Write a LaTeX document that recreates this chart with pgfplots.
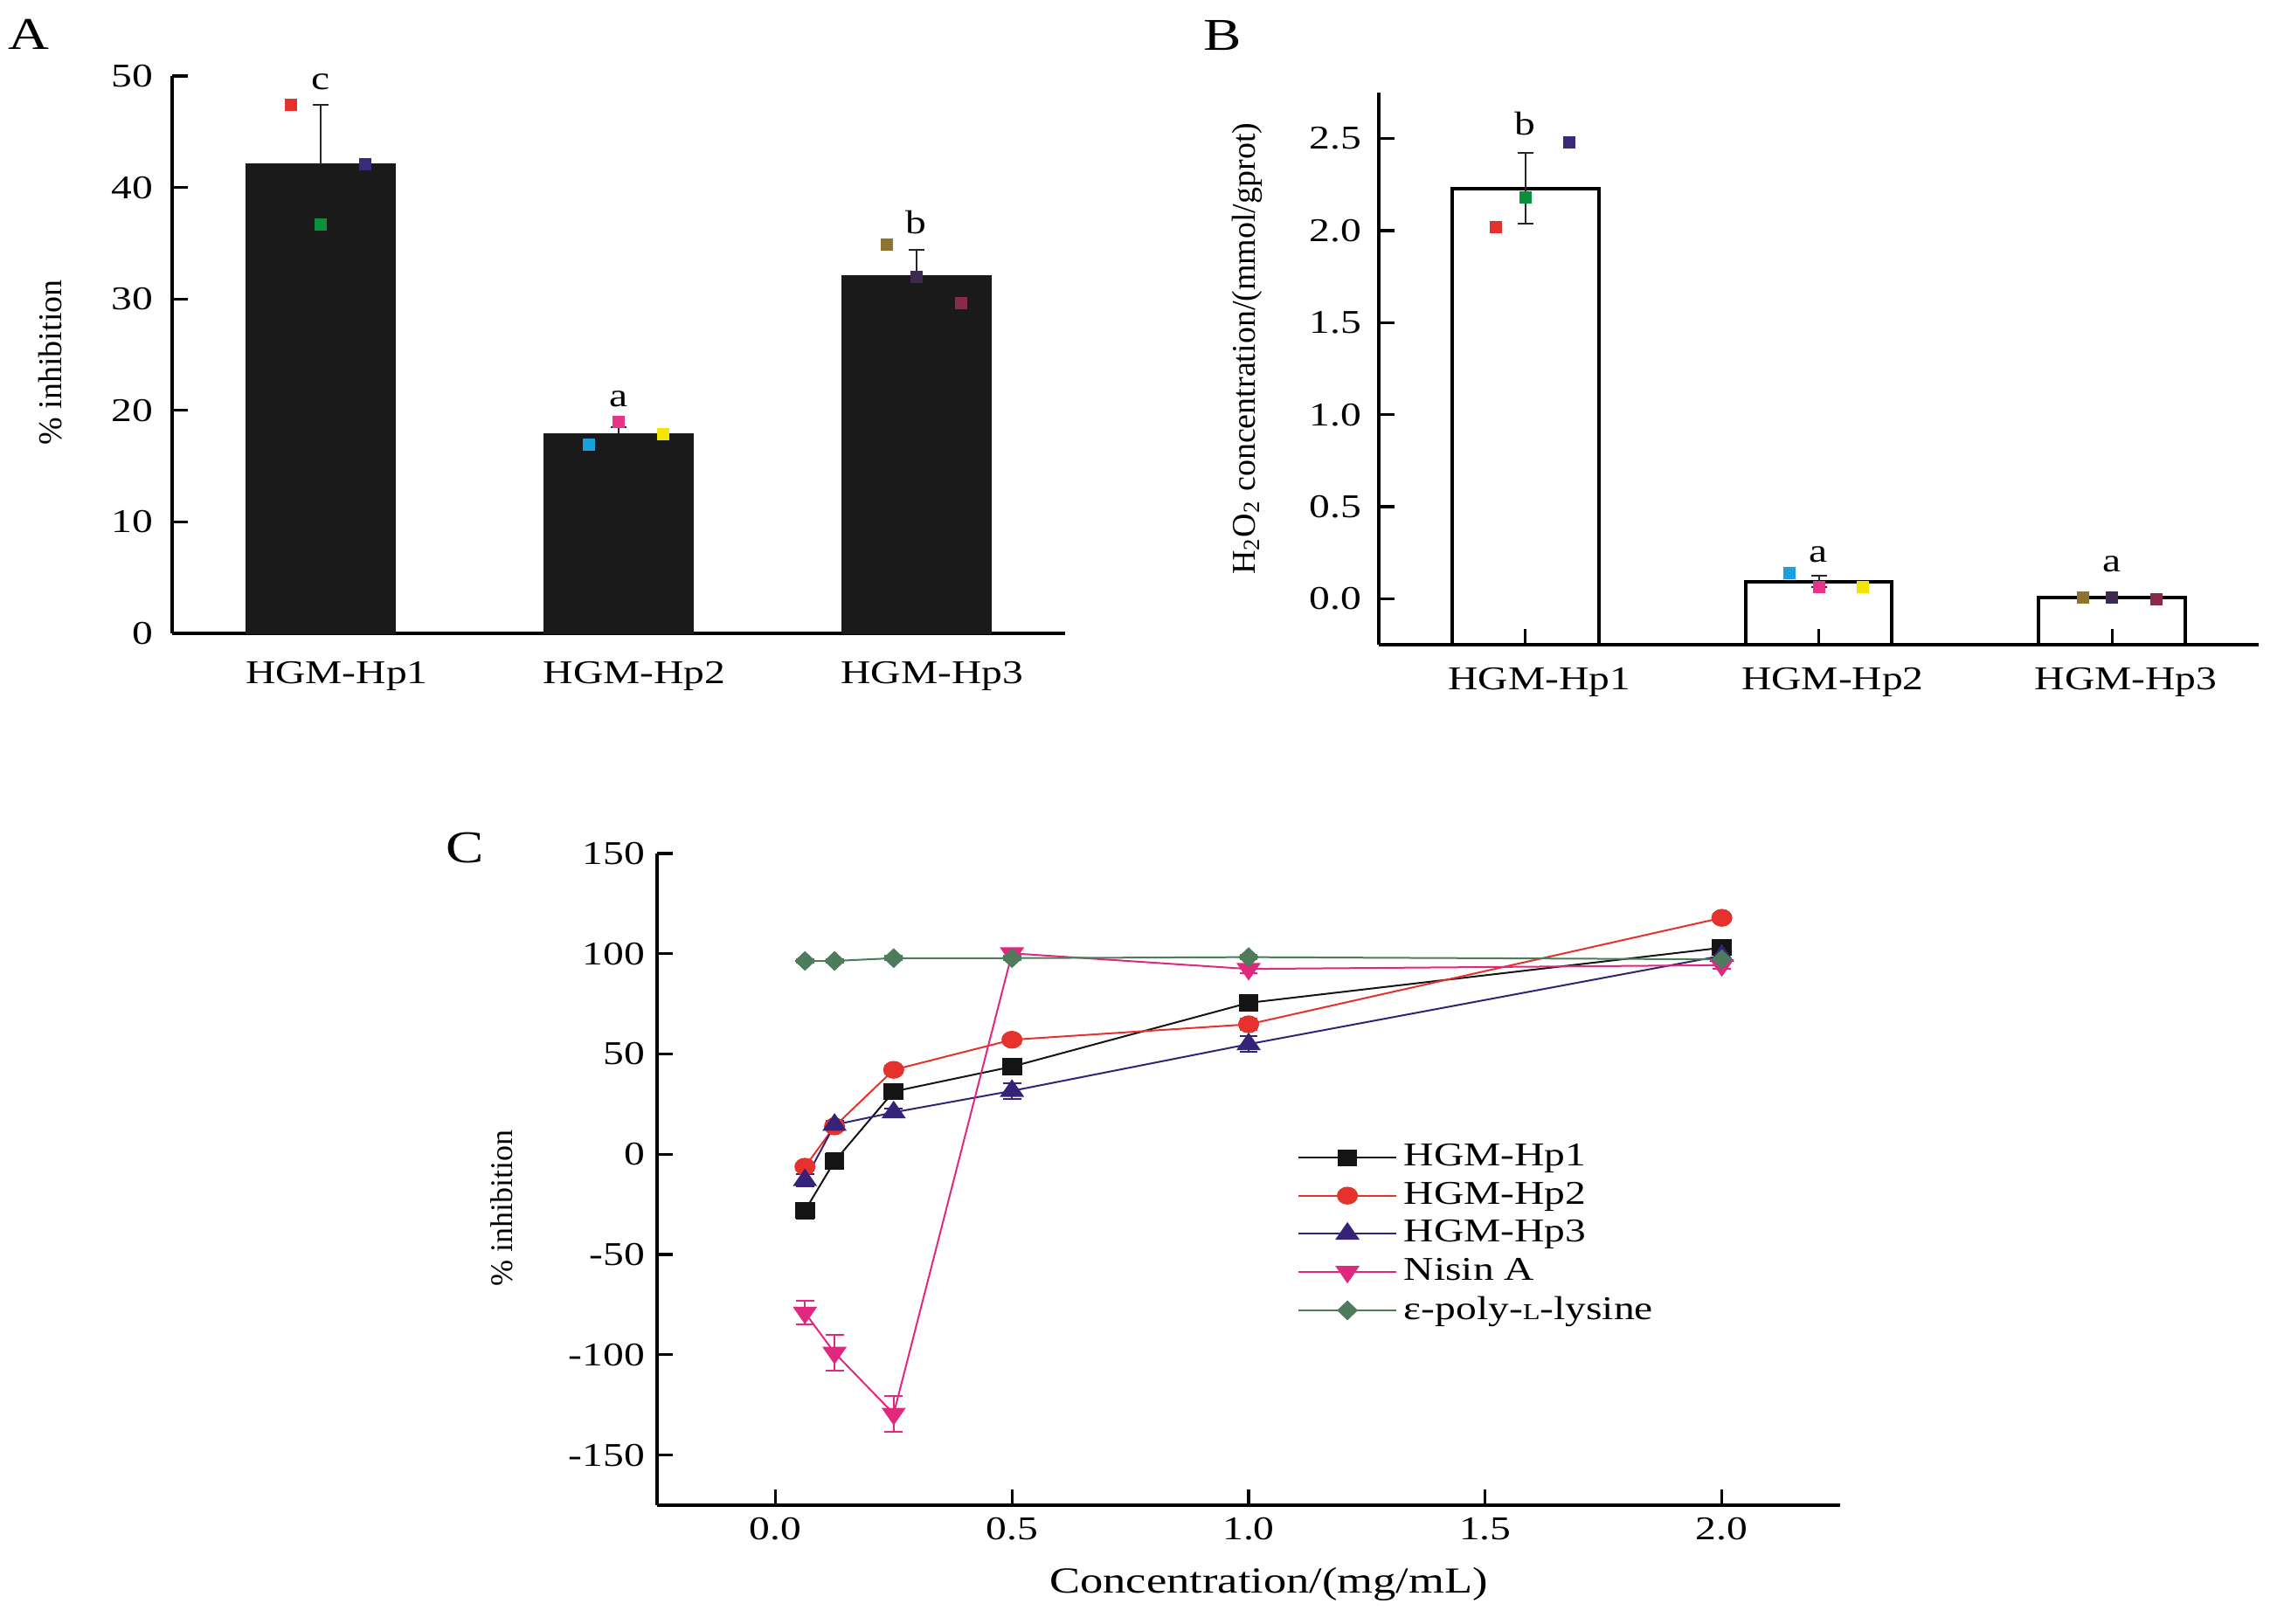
\documentclass[border=0pt]{standalone}
\usepackage{fontspec}
\setmainfont{Liberation Serif}
\newfontfamily\hfont{Liberation Serif}[FakeStretch=1.25]
\usepackage{pgfplots}
\pgfplotsset{compat=1.18}
\definecolor{cRed}{HTML}{E5322D}
\definecolor{cGreen}{HTML}{0A8F3C}
\definecolor{cPurp}{HTML}{3B2A7A}
\definecolor{cBlue}{HTML}{1AA0DC}
\definecolor{cPink}{HTML}{E8338A}
\definecolor{cYel}{HTML}{F2E600}
\definecolor{cBrown}{HTML}{8F7430}
\definecolor{cDPurp}{HTML}{3C2A50}
\definecolor{cMaroon}{HTML}{8A2A4A}
\definecolor{cBar}{HTML}{1A1A1A}
\definecolor{cHpone}{HTML}{141414}
\definecolor{cHptwo}{HTML}{E5322D}
\definecolor{cHpthree}{HTML}{35237A}
\definecolor{cNisin}{HTML}{E0287F}
\definecolor{cLys}{HTML}{4D7C5C}
\newcommand{\tfont}{\hfont\fontsize{9.5}{11}\selectfont}
\newcommand{\lfont}{\fontsize{9.5}{11}\selectfont}
\pgfplotsset{
  panel/.style={
    scale only axis, clip=false,
    axis x line*=bottom, axis y line*=left,
    tick align=inside, major tick length=4.5pt,
    tick style={black, line width=0.8pt},
    axis line style={black, line width=0.8pt},
    /pgf/number format/assume math mode=true,
    tick label style={font=\tfont},
    label style={font=\lfont},
  },
  pt/.style={only marks, mark=square*, mark size=1.55pt, forget plot},
  eb/.style={draw=none, mark=none, forget plot,
    /pgfplots/error bars/y dir=#1,
    /pgfplots/error bars/y explicit,
    /pgfplots/error bars/error bar style={draw=black!85, line width=0.5pt},
    /pgfplots/error bars/error mark options={draw=black!85, rotate=90, mark size=2.25pt, line width=0.5pt}},
}
\begin{document}
\begin{tikzpicture}
\useasboundingbox (0,0) rectangle (655.5pt,464.75pt);
% ---------------- Panel A ----------------
\begin{axis}[panel, at={(49.25pt,283.5pt)}, anchor=south west,
  width=255.5pt, height=159.5pt,
  xmin=-0.5, xmax=2.5, ymin=0, ymax=50, ytick={0,10,...,50},
  xtick={0,1,2}, xticklabels={HGM-Hp1,HGM-Hp2,HGM-Hp3},
  xticklabel style={yshift=-4.5pt, xshift=4.5pt}, yticklabel style={xshift=-2pt},
  x axis line style={line width=1.1pt}, xtick style={draw=none},
  ylabel={\% inhibition},
  ylabel style={at={(axis description cs:-0.136,0.486)}, anchor=center}]
\addplot[ybar, bar width=0.5, fill=cBar, draw=cBar] coordinates {(0,42.1) (1,17.9) (2,32.1)};
\addplot[eb=plus]
  coordinates {(0,42.1) +- (0,5.3) (1,17.9) +- (0,0.6) (2,32.1) +- (0,2.3)};
\addplot[pt, cRed] coordinates {(-0.1,47.4)};
\addplot[pt, cPurp] coordinates {(0.15,42.05)};
\addplot[pt, cGreen] coordinates {(0,36.7)};
\addplot[pt, cBlue] coordinates {(0.9,16.9)};
\addplot[pt, cPink] coordinates {(1,19.0)};
\addplot[pt, cYel] coordinates {(1.15,17.9)};
\addplot[pt, cBrown] coordinates {(1.9,34.9)};
\addplot[pt, cDPurp] coordinates {(2,32.0)};
\addplot[pt, cMaroon] coordinates {(2.15,29.6)};
\node[font=\tfont] at (axis cs:0,49.5) {c};
\node[font=\tfont] at (axis cs:1,21.0) {a};
\node[font=\tfont] at (axis cs:2,36.9) {b};
\end{axis}
% ---------------- Panel B ----------------
\begin{axis}[panel, at={(394.5pt,280.25pt)}, anchor=south west,
  width=251.75pt, height=158pt,
  xmin=-0.5, xmax=2.5, ymin=-0.25, ymax=2.75, ytick={0,0.5,...,2.5},
  yticklabel style={xshift=-1.5pt, /pgf/number format/.cd, fixed, fixed zerofill, precision=1},
  xticklabel style={yshift=-3pt, xshift=4pt},
  xtick={0,1,2}, xticklabels={HGM-Hp1,HGM-Hp2,HGM-Hp3},
  x axis line style={line width=1.1pt},
  ylabel={H\textsubscript{2}O\textsubscript{2} concentration/(mmol/gprot)},
  ylabel style={at={(axis description cs:-0.15,0.536)}, anchor=center}]
\addplot[black, line width=1pt] coordinates {(-0.25,-0.25) (-0.25,2.23) (0.25,2.23) (0.25,-0.25)};
\addplot[black, line width=1pt] coordinates {(0.75,-0.25) (0.75,0.093) (1.25,0.093) (1.25,-0.25)};
\addplot[black, line width=1pt] coordinates {(1.75,-0.25) (1.75,0.008) (2.25,0.008) (2.25,-0.25)};
\addplot[eb=both]
  coordinates {(0,2.23) +- (0,0.19) (1,0.093) +- (0,0.03)};
\addplot[pt, cRed] coordinates {(-0.1,2.02)};
\addplot[pt, cGreen] coordinates {(0,2.18)};
\addplot[pt, cPurp] coordinates {(0.15,2.48)};
\addplot[pt, cBlue] coordinates {(0.9,0.137)};
\addplot[pt, cPink] coordinates {(1,0.065)};
\addplot[pt, cYel] coordinates {(1.15,0.065)};
\addplot[pt, cBrown] coordinates {(1.9,0.008)};
\addplot[pt, cDPurp] coordinates {(2,0.008)};
\addplot[pt, cMaroon] coordinates {(2.15,-0.005)};
\node[font=\tfont] at (axis cs:0,2.58) {b};
\node[font=\tfont] at (axis cs:1,0.24) {a};
\node[font=\tfont] at (axis cs:2,0.19) {a};
\end{axis}
% ---------------- Panel C ----------------
\begin{axis}[panel, at={(188pt,34pt)}, anchor=south west,
  width=338.5pt, height=186.5pt,
  xmin=-0.25, xmax=2.25, ymin=-175, ymax=150,
  xtick={0,0.5,...,2}, ytick={-150,-100,...,150},
  xticklabel style={/pgf/number format/.cd, fixed, fixed zerofill, precision=1},
  xlabel={\hfont\fontsize{10.5}{12}\selectfont Concentration/(mg/mL)},
  xlabel style={at={(axis description cs:0.517,-0.121)}, anchor=center},
  ylabel={\% inhibition},
  ylabel style={at={(axis description cs:-0.131,0.456)}, anchor=center, font=\fontsize{9}{10}\selectfont},
  legend style={at={(axis description cs:0.541,0.566)}, anchor=north west,
    draw=none, fill=none, font=\tfont, inner sep=0pt, row sep=-0.9pt,
    cells={anchor=west}},
  legend image code/.code={\draw[mark repeat=2,mark phase=2] plot coordinates {(0cm,0cm)(0.49cm,0cm)(0.98cm,0cm)};},
  every axis plot/.append style={line width=0.5pt},
  error bars/error bar style={line width=0.5pt},
  error bars/error mark options={rotate=90, mark size=2.6pt, line width=0.5pt},
]
\addplot[cHpone, mark=square*, mark size=2.15pt, mark options={xscale=1.2},
  error bars/.cd, y dir=both, y explicit]
  coordinates {(0.0625,-28.1) +- (0,4) (0.125,-3.5) +- (0,4) (0.25,31.3) +- (0,2) (0.5,43.7) +- (0,4) (1,75.5) +- (0,2) (2,103) +- (0,2)};
\addlegendentry{HGM-Hp1}
\addplot[cHptwo, mark=*, mark size=2.3pt, mark options={xscale=1.2},
  error bars/.cd, y dir=both, y explicit]
  coordinates {(0.0625,-6.2) +- (0,2) (0.125,13.9) +- (0,2) (0.25,42.1) +- (0,2) (0.5,57.1) +- (0,2) (1,64.8) +- (0,3) (2,117.9) +- (0,2)};
\addlegendentry{HGM-Hp2}
\addplot[cHpthree, mark=triangle*, mark size=2.9pt, mark options={xscale=1.2},
  error bars/.cd, y dir=both, y explicit]
  coordinates {(0.0625,-12.9) +- (0,3) (0.125,14.7) +- (0,2) (0.25,20.9) +- (0,2) (0.5,31.6) +- (0,4) (1,54.9) +- (0,4) (2,99) +- (0,2)};
\addlegendentry{HGM-Hp3}
\addplot[cNisin, mark=triangle*, mark size=2.9pt, mark options={rotate=180, xscale=1.2},
  error bars/.cd, y dir=both, y explicit]
  coordinates {(0.0625,-79) +- (0,6) (0.125,-99) +- (0,9) (0.25,-129.4) +- (0,9) (0.5,100.2) +- (0,2) (1,92.4) +- (0,2) (2,94.3) +- (0,2)};
\addlegendentry{Nisin A}
\addplot[cLys, mark=diamond*, mark size=2.5pt, mark options={xscale=1.4},
  error bars/.cd, y dir=both, y explicit]
  coordinates {(0.0625,96.4) +- (0,1) (0.125,96.4) +- (0,1) (0.25,97.8) +- (0,1) (0.5,97.8) +- (0,1) (1,98.3) +- (0,1) (2,97.2) +- (0,1)};
\addlegendentry{ε-poly-{\fontsize{6.5}{7}\selectfont L}-lysine}
\end{axis}
% panel letters
\node[font=\hfont\fontsize{13}{14}\selectfont] at (8.3pt,455pt) {A};
\node[font=\hfont\fontsize{13}{14}\selectfont] at (349.8pt,454.5pt) {B};
\node[font=\hfont\fontsize{13}{14}\selectfont] at (133pt,222pt) {C};
\end{tikzpicture}
\end{document}
